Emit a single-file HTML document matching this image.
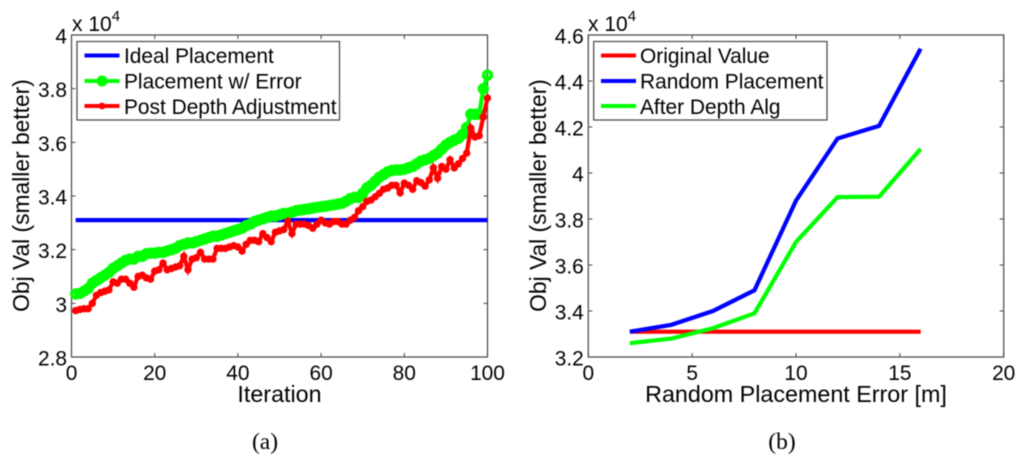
<!DOCTYPE html>
<html>
<head>
<meta charset="utf-8">
<title>Objective value charts</title>
<style>
html,body{margin:0;padding:0;background:#fff;}
svg{display:block;filter:blur(0.4px);}
text{font-family:"Liberation Sans",sans-serif;fill:#000;}
.cap{font-family:"Liberation Serif",serif;font-size:23.5px;}
.leg{font-size:20.9px;}
.alab{font-size:23.3px;}
.ylab{font-size:22.8px;}
</style>
</head>
<body>
<svg id="figure" width="1024" height="460" viewBox="0 0 1024 460" xmlns="http://www.w3.org/2000/svg">
  <g id="panel-a"></g>
  <g id="panel-b"></g>

  <text class="ylab" transform="translate(29,195.5) rotate(-90)" text-anchor="middle">Obj Val (smaller better)</text>
  <text class="alab" x="279.5" y="402" text-anchor="middle">Iteration</text>
  <text font-size="21" x="72" y="31">x 10<tspan font-size="15" dy="-10">4</tspan></text>
  <text class="cap" x="265" y="449" text-anchor="middle">(a)</text>

  <text class="ylab" transform="translate(546,195.5) rotate(-90)" text-anchor="middle">Obj Val (smaller better)</text>
  <text class="alab" x="796" y="402" text-anchor="middle">Random Placement Error [m]</text>
  <text font-size="21" x="588" y="31">x 10<tspan font-size="15" dy="-10">4</tspan></text>
  <text class="cap" x="782" y="449" text-anchor="middle">(b)</text>

  <g>
    <rect x="77" y="41.5" width="262.5" height="78.5" fill="#fff" stroke="#444" stroke-width="1.2"/>
    <g>
      <line x1="84.5" x2="119.5" y1="55.5" y2="55.5" stroke="#0000ff" stroke-width="4"/>
      <text class="leg" x="124" y="63">Ideal Placement</text>
    </g>
    <g>
      <line x1="84.5" x2="119.5" y1="81" y2="81" stroke="#00ff00" stroke-width="4"/>
      <circle cx="102" cy="81" r="5.5" fill="#00ff00"/>
      <text class="leg" x="124" y="88.5">Placement w/ Error</text>
    </g>
    <g>
      <line x1="84.5" x2="119.5" y1="106" y2="106" stroke="#ff0000" stroke-width="4"/>
      <circle cx="102" cy="106" r="3.4" fill="#ff0000"/>
      <text class="leg" x="124" y="114">Post Depth Adjustment</text>
    </g>
  </g>

  <g>
    <rect x="593.7" y="41.5" width="233.3" height="78.5" fill="#fff" stroke="#444" stroke-width="1.2"/>
    <g>
      <line x1="601" x2="636" y1="55.5" y2="55.5" stroke="#ff0000" stroke-width="4"/>
      <text class="leg" x="640" y="63">Original Value</text>
    </g>
    <g>
      <line x1="601" x2="636" y1="81" y2="81" stroke="#0000ff" stroke-width="4"/>
      <text class="leg" x="640" y="88.5">Random Placement</text>
    </g>
    <g>
      <line x1="601" x2="636" y1="106" y2="106" stroke="#00ff00" stroke-width="4"/>
      <text class="leg" x="640" y="114">After Depth Alg</text>
    </g>
  </g>
</svg>

<script>
const aXTicks = ['0','20','40','60','80','100'];
const aYTicks = ['2.8','3','3.2','3.4','3.6','3.8','4'];
const bXTicks = ['0','5','10','15','20'];
const bYTicks = ['3.2','3.4','3.6','3.8','4','4.2','4.4','4.6'];

const idealValue = 3.31;

const placementError = [
3.035,3.037,3.045,3.055,3.075,3.085,3.095,3.105,3.115,3.13,
3.14,3.15,3.16,3.165,3.165,3.175,3.175,3.185,3.187,3.187,
3.19,3.19,3.195,3.2,3.205,3.215,3.22,3.225,3.225,3.23,
3.235,3.24,3.245,3.25,3.25,3.255,3.26,3.265,3.27,3.275,
3.28,3.29,3.295,3.305,3.31,3.315,3.32,3.325,3.325,3.33,
3.335,3.335,3.34,3.345,3.348,3.35,3.352,3.355,3.358,3.36,
3.362,3.365,3.367,3.37,3.373,3.38,3.39,3.395,3.395,3.41,
3.43,3.44,3.455,3.47,3.48,3.49,3.495,3.497,3.497,3.5,
3.505,3.51,3.52,3.53,3.535,3.54,3.55,3.56,3.575,3.59,
3.6,3.608,3.615,3.63,3.655,3.705,3.705,3.705,3.8,3.85];

const postDepth = [
2.973,2.977,2.98,2.98,3.0,3.03,3.04,3.045,3.05,3.08,
3.075,3.09,3.09,3.075,3.06,3.1,3.105,3.095,3.09,3.12,
3.125,3.15,3.125,3.13,3.135,3.14,3.175,3.125,3.165,3.17,
3.19,3.165,3.165,3.165,3.205,3.205,3.205,3.21,3.215,3.21,
3.195,3.22,3.235,3.235,3.23,3.26,3.245,3.23,3.265,3.27,
3.275,3.305,3.26,3.295,3.295,3.295,3.29,3.28,3.295,3.31,
3.3,3.295,3.305,3.305,3.295,3.295,3.31,3.32,3.345,3.36,
3.38,3.385,3.397,3.41,3.425,3.43,3.44,3.44,3.412,3.448,
3.44,3.425,3.457,3.45,3.437,3.46,3.505,3.466,3.51,3.5,
3.535,3.505,3.52,3.54,3.56,3.653,3.62,3.625,3.695,3.765];

const errorMeters = [2,4,6,8,10,12,14,16];
const originalValue = [3.31,3.31,3.31,3.31,3.31,3.31,3.31,3.31];
const randomPlacement = [3.31,3.34,3.40,3.49,3.88,4.15,4.205,4.54];
const afterDepth = [3.26,3.28,3.325,3.39,3.70,3.895,3.897,4.105];

const NS = 'http://www.w3.org/2000/svg';
function make(parent, tag, attrs, text) {
  const el = document.createElementNS(NS, tag);
  for (const k in attrs) el.setAttribute(k, attrs[k]);
  if (text !== undefined) el.textContent = text;
  parent.appendChild(el);
  return el;
}
function scale(d0, d1, r0, r1) {
  return v => r0 + (v - d0) * (r1 - r0) / (d1 - d0);
}
function drawAxes(parent, box, xLabels, yLabels, sx, sy, prefix) {
  const axes = make(parent, 'g', {});
  
  
  const frame = make(axes, 'rect', {x: box.l, y: box.t, width: box.r - box.l, height: box.b - box.t, fill: 'none', stroke: '#444', 'stroke-width': 1.2});
  
  
  xLabels.forEach(lab => {
    const x = sx(parseFloat(lab));
    make(axes, 'path', {d: `M${x} ${box.b}V${box.b - 4}M${x} ${box.t}V${box.t + 4}`, stroke: '#444', 'stroke-width': 1, fill: 'none'});
    const t = make(axes, 'text', {x: x, y: 380, 'text-anchor': 'middle', 'font-size': 20.9}, lab);
    
    
  });
  yLabels.forEach(lab => {
    const y = sy(parseFloat(lab));
    make(axes, 'path', {d: `M${box.l} ${y}H${box.l + 4}M${box.r} ${y}H${box.r - 4}`, stroke: '#444', 'stroke-width': 1, fill: 'none'});
    const t = make(axes, 'text', {x: box.l - 4.5, y: y + 8.5, 'text-anchor': 'end', 'font-size': 20.9}, lab);
    
    
  });
}
function polyline(parent, xs, ys, sx, sy, color, name) {
  const pts = xs.map((x, i) => sx(x).toFixed(2) + ',' + sy(ys[i]).toFixed(2)).join(' ');
  const line = make(parent, 'polyline', {points: pts, fill: 'none', stroke: color, 'stroke-width': 4.2, 'stroke-linejoin': 'miter'});
  
  
  return line;
}

/* Panel (a) */
const boxA = {l: 71.5, r: 487.5, t: 35, b: 357};
const ax = scale(0, 100, boxA.l, boxA.r);
const ay = scale(2.8, 4, boxA.b, boxA.t);
const panelA = document.getElementById('panel-a');
drawAxes(panelA, boxA, aXTicks, aYTicks, ax, ay, 'panel-a');
const iterations = placementError.map((_, i) => i + 1);

polyline(panelA, iterations, iterations.map(() => idealValue), ax, ay, '#0000ff', 'ideal-placement-line');
polyline(panelA, iterations, placementError, ax, ay, '#00ff00', 'placement-error-line');
const greenDots = make(panelA, 'g', {fill: 'none', stroke: '#00ff00', 'stroke-width': 3.6});


iterations.forEach((it, i) => {
  const c = make(greenDots, 'circle', {cx: ax(it), cy: ay(placementError[i]), r: 3.9});
  
  
});
polyline(panelA, iterations, postDepth, ax, ay, '#ff0000', 'post-depth-line');
const redDots = make(panelA, 'g', {fill: '#ff0000'});


iterations.forEach((it, i) => {
  const c = make(redDots, 'circle', {cx: ax(it), cy: ay(postDepth[i]), r: 3.7});
  
  
});

/* Panel (b) */
const boxB = {l: 588.3, r: 1003.7, t: 35, b: 357};
const bx = scale(0, 20, boxB.l, boxB.r);
const by = scale(3.2, 4.6, boxB.b, boxB.t);
const panelB = document.getElementById('panel-b');
drawAxes(panelB, boxB, bXTicks, bYTicks, bx, by, 'panel-b');
polyline(panelB, errorMeters, originalValue, bx, by, '#ff0000', 'original-value-line');
polyline(panelB, errorMeters, randomPlacement, bx, by, '#0000ff', 'random-placement-line');
polyline(panelB, errorMeters, afterDepth, bx, by, '#00ff00', 'after-depth-line');
</script>
</body>
</html>
